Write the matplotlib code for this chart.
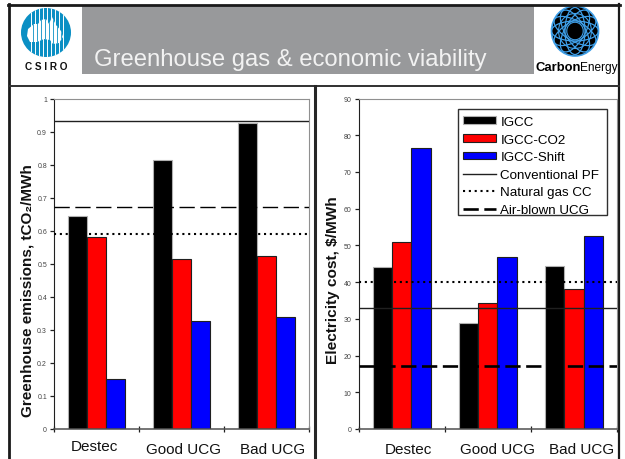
import numpy as np
import matplotlib
matplotlib.use('Agg')
import matplotlib.pyplot as plt
from matplotlib.patches import Ellipse, Polygon, Rectangle, Arc

plt.rcParams['font.family'] = ['Liberation Sans', 'DejaVu Sans']

W, H = 625, 460

categories = ['Destec', 'Good UCG', 'Bad UCG']
series_names = ['IGCC', 'IGCC-CO2', 'IGCC-Shift']
line_names = ['Conventional PF', 'Natural gas CC', 'Air-blown UCG']

# emissions, tCO2/MWh
ghg_igcc = [0.645, 0.815, 0.925]
ghg_co2 = [0.58, 0.513, 0.522]
ghg_shift = [0.15, 0.328, 0.338]
ghg_lines = [0.932, 0.59, 0.673]
ghg_ticks = [0, 0.1, 0.2, 0.3, 0.4, 0.5, 0.6, 0.7, 0.8, 0.9, 1]
ghg_ticklabels = ['0', '0.1', '0.2', '0.3', '0.4', '0.5', '0.6', '0.7', '0.8', '0.9', '1']

# cost, $/MWh
cost_igcc = [44, 29, 44.3]
cost_co2 = [50.8, 34.3, 38]
cost_shift = [76.4, 46.8, 52.6]
cost_lines = [33, 40, 17.2]
cost_ticks = [0, 10, 20, 30, 40, 50, 60, 70, 80, 90]

bar_colors = ['black', '#ff0000', '#0000ff']


def px_axes(fig, x0, y0, x1, y1):
    return fig.add_axes([x0/W, 1-y1/H, (x1-x0)/W, (y1-y0)/H])


def draw_panel(ax, values, lines, ymax, ticks, ticklabels, dash_lw, bar_w):
    xs = np.arange(3)+0.5
    handles = []
    for i in range(3):
        ec = '#b0b0b0' if i == 0 else '#202020'
        b = ax.bar(xs+(i-1)*bar_w, values[i], bar_w, color=bar_colors[i], edgecolor=ec, linewidth=0.8, zorder=2)
        handles.append(b)
    l1 = ax.axhline(lines[0], color='#202020', lw=1, zorder=3)
    l2 = ax.axhline(lines[1], color='black', lw=1.5, dashes=(1, 1.8), zorder=3)
    l3 = ax.axhline(lines[2], color='black', lw=dash_lw, dashes=(11/dash_lw, 4/dash_lw), zorder=3)
    ax.set_xlim(0, 3)
    ax.set_ylim(0, ymax)
    ax.set_xticks([0, 1, 2, 3])
    ax.set_xticklabels([])
    ax.set_yticks(ticks)
    ax.set_yticklabels(ticklabels, fontsize=5, color='#444444')
    ax.tick_params(axis='y', length=3, width=0.9, pad=2, color='#202020')
    ax.tick_params(axis='x', length=4, width=0.9, direction='inout', color='#202020')
    ax.spines['left'].set_color('#202020')
    ax.spines['bottom'].set_color('#505050')
    ax.spines['bottom'].set_linewidth(1.1)
    ax.spines['top'].set_color('#909090')
    ax.spines['right'].set_color('#909090')
    return handles, [l1, l2, l3]


fig = plt.figure(figsize=(W/100, H/100), dpi=100)

# page layer in pixel coordinates
bg = fig.add_axes([0, 0, 1, 1])
bg.set_xlim(0, W)
bg.set_ylim(H, 0)
bg.axis('off')

bg.add_patch(Rectangle((82, 6), 452, 69, color='#98999b', lw=0))
bg.plot([9, 9], [5, 460], color='#1a1a1a', lw=2)
bg.plot([8, 620], [5.5, 5.5], color='#1a1a1a', lw=2)
bg.plot([619, 619], [5, 460], color='#1a1a1a', lw=1.6)
bg.plot([9, 619], [87, 87], color='#303030', lw=1.4)
bg.plot([314.5, 314.5], [87, 460], color='#262626', lw=2.2)

bg.text(94, 66, 'Greenhouse gas & economic viability', fontsize=17.2, color='#f2f2f2', va='baseline', ha='left')

# CSIRO logo
disc = Ellipse((46, 33.5), 50, 49, color='#0a8fc4', lw=0)
bg.add_patch(disc)
aus = Polygon([(28, 30), (34, 25), (38, 25), (41, 21), (46, 20), (49, 25), (52, 18), (56, 26), (61, 32),
               (63, 38), (59, 44), (53, 45), (50, 41), (44, 40), (37, 43), (30, 43), (27, 37)],
              closed=True, color='white', lw=0)
bg.add_patch(aus)
for sx in [31, 35, 39, 43, 47, 51, 55, 59, 63]:
    st = bg.plot([sx, sx], [9, 58], color='white', lw=0.7)[0]
    st.set_clip_path(disc)
    mask = bg.plot([sx+2, sx+2], [18, 46], color='#0a8fc4', lw=0.6)[0]
    mask.set_clip_path(aus)
bg.text(46, 67, 'C S I R O', fontsize=7.2, fontweight='bold', ha='center', va='center', color='#111111')

# CarbonEnergy logo
sphere = Ellipse((575, 32), 47, 50, facecolor='black', edgecolor='#3f9fe8', lw=1.2)
bg.add_patch(sphere)
for a in range(0, 180, 30):
    arc = Ellipse((575, 32), 47, 20, angle=a, fill=False, edgecolor='#3f9fe8', lw=0.9)
    bg.add_patch(arc)
    arc.set_clip_path(sphere)
for r in [0.35, 0.7]:
    bg.add_patch(Arc((575, 32), 47*r, 50*r, color='#3f9fe8', lw=0.8))
bg.text(535, 68, 'Carbon', fontsize=9.4, fontweight='bold', ha='left', va='center', color='black')
bg.text(580, 68, 'Energy', fontsize=8.6, ha='left', va='center', color='black')

# left chart
ax1 = px_axes(fig, 54, 99.5, 309, 430)
draw_panel(ax1, [ghg_igcc, ghg_co2, ghg_shift], ghg_lines, 1, ghg_ticks, ghg_ticklabels, 1.0, 0.225)

# right chart
ax2 = px_axes(fig, 358.5, 99.5, 617, 430)
bars, lines = draw_panel(ax2, [cost_igcc, cost_co2, cost_shift], cost_lines, 90, cost_ticks,
                         [str(t) for t in cost_ticks], 1.9, 0.225)

# frame drawn by hand: the last entry sits right on the bottom edge in the original
ax2.add_patch(Rectangle((458, 110), 149, 106, transform=bg.transData, fill=False,
                        edgecolor='#303030', lw=1, zorder=4, clip_on=False))
leg = ax2.legend(bars+lines, series_names+line_names, loc='upper left',
                 bbox_to_anchor=(459/W, 1-113/H), bbox_transform=fig.transFigure,
                 fontsize=9.6, frameon=False,
                 borderaxespad=0, borderpad=0.3, labelspacing=0.42, handlelength=2.5,
                 handletextpad=0.3, handleheight=0.5)
leg.set_zorder(5)

# hand placed text boxes, as on the slide
label_pos = [(94, 447), (183.5, 450), (272.5, 450), (408, 450), (497, 450), (582, 450)]
for (lx, ly), name in zip(label_pos, categories+categories):
    bg.text(lx, ly, name, fontsize=11, ha='center', va='center', color='#111111')

bg.text(28, 291, 'Greenhouse emissions, tCO\u2082/MWh', fontsize=11, fontweight='bold', rotation=90,
        ha='center', va='center', color='#111111')
bg.text(333, 280, r'Electricity cost, \$/MWh', fontsize=11.1, fontweight='bold', rotation=90,
        ha='center', va='center', color='#111111')

fig.savefig('out.png', dpi=100)
